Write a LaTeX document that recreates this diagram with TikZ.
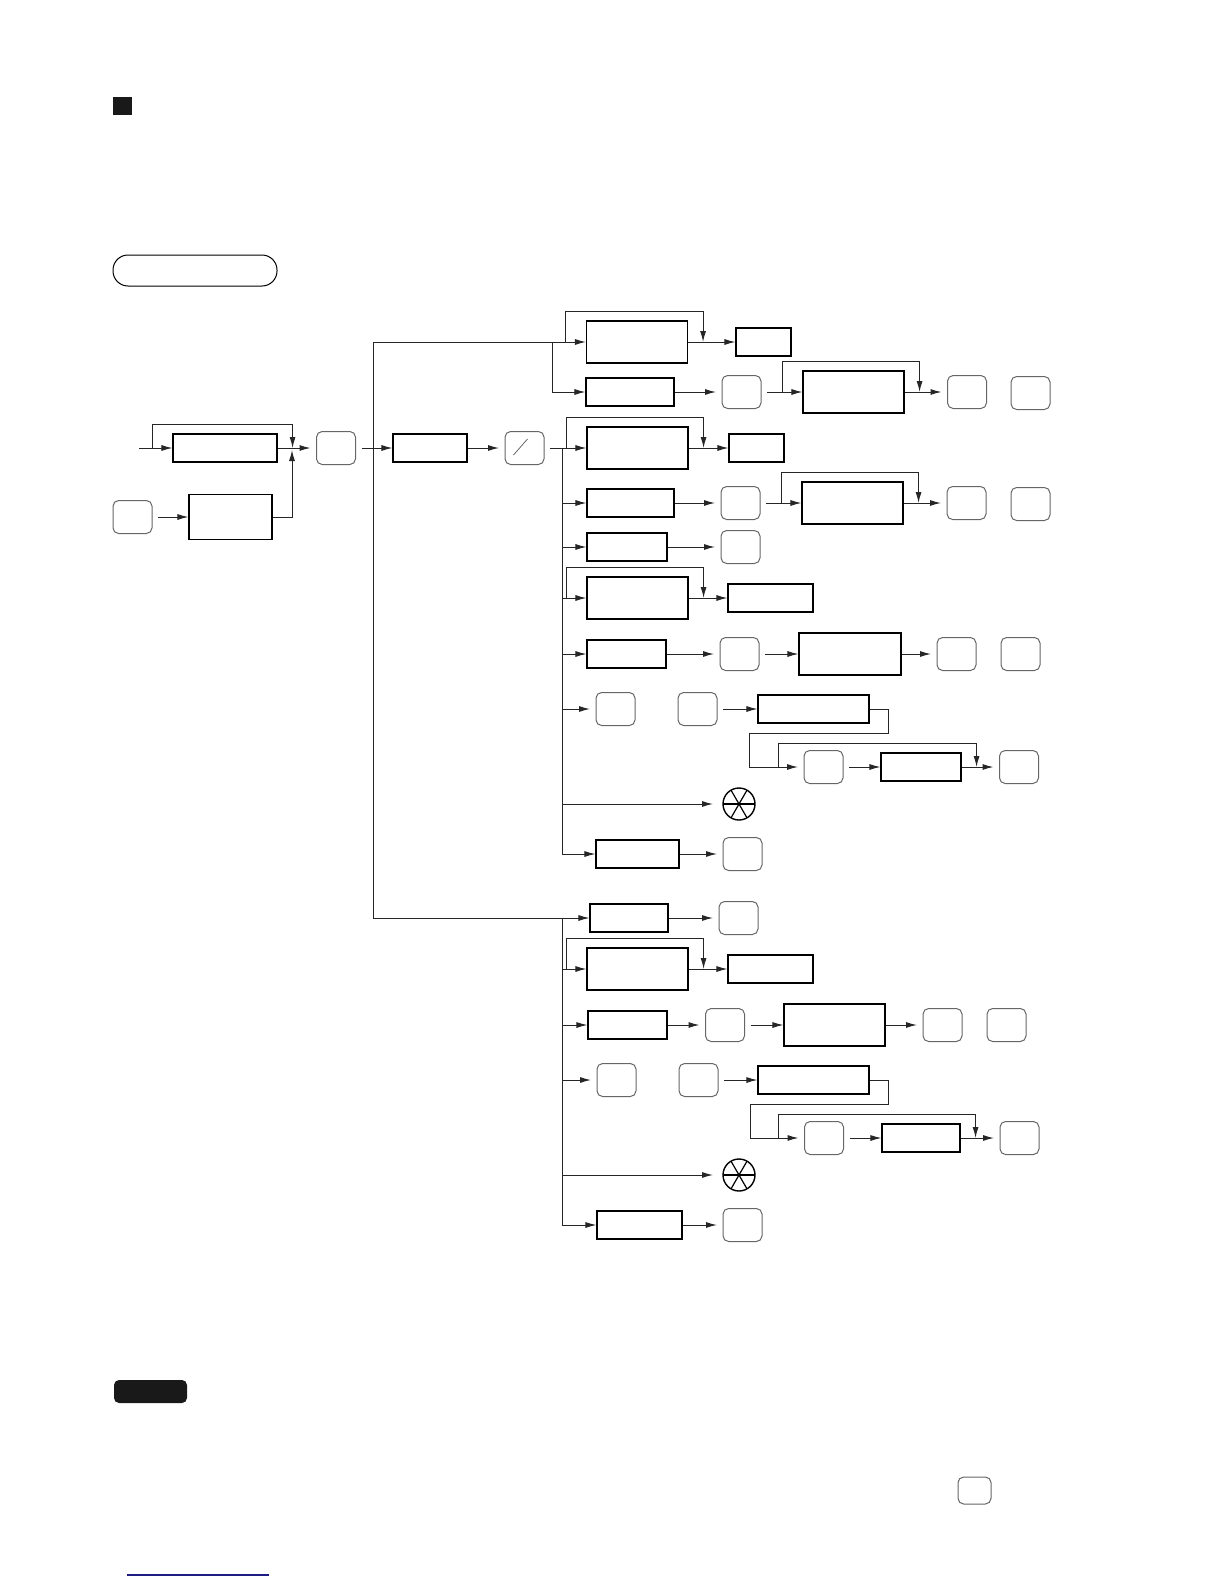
\documentclass[tikz,border=0pt]{standalone}
\usetikzlibrary{arrows.meta}
\definecolor{linknavy}{RGB}{28,28,130}
\tikzset{
	>={Latex[length=5.5pt,width=3pt]},
	conn/.style={black!85, line width=0.5pt},
	arr/.style={conn, ->},
	field/.style={draw=black, line width=0.55pt, inner sep=0pt, minimum height=14pt, minimum width=#1},
	field/.default=40pt,
	bigfield/.style={field=50.5pt, minimum height=21pt},
	key/.style={draw=black!60, line width=0.5pt, rounded corners=2.8pt, inner sep=0pt,
		minimum width=19.5pt, minimum height=16.5pt, outer sep=3pt},
	lamp/.style={circle, draw=black, line width=0.7pt, inner sep=0pt, minimum size=16pt, outer sep=5pt,
		path picture={
			\draw[line width=0.6pt] (path picture bounding box.center) ++(0:8pt) -- ++(180:16pt);
			\draw[line width=0.6pt] (path picture bounding box.center) ++(60:8pt) -- ++(240:16pt);
			\draw[line width=0.6pt] (path picture bounding box.center) ++(120:8pt) -- ++(300:16pt);
		}},
	slashkey/.style={key, path picture={
			\draw[line width=0.4pt] ([shift={(-5.5pt,-3.5pt)}]path picture bounding box.center)
			-- ([shift={(1.5pt,4.5pt)}]path picture bounding box.center);
		}},
}
% bypass line over one node (or a run of nodes)
\newcommand{\skipover}[2]{\draw[arr] ([xshift=-10pt]#1.west) |- ([xshift=7.5pt,yshift=4.5pt]#2.north east) -- ([xshift=7.5pt]#2.east);}

\begin{document}
\begin{tikzpicture}[x=0.5pt, y=-0.5pt]
	\useasboundingbox (0,0) rectangle (1224,1584);
	
	% header marks
	\node[fill=black!90, minimum width=9.5pt, minimum height=9pt, inner sep=0pt] (mark) at (122.5,106) {};
	\node[draw, line width=0.5pt, rounded corners=7.5pt, minimum width=82pt, minimum height=15.5pt, inner sep=0pt] (tag) at (195,270.5) {};
	
	% entry part
	\coordinate (in0) at (139,448);
	\node[field=52pt] (box1) at (225,448) {};
	\node[key] (key0) at (132.5,517) {};
	\node[field=41.5pt, minimum height=22.5pt] (box2) at (230.5,517) {};
	\node[key] (key1) at (336,448) {};
	\node[field=37pt] (box3) at (430,448) {};
	\node[slashkey] (slash) at (524.5,448) {};
	\coordinate (merge) at (292,448);
	
	\draw[arr] (in0) -- (box1);
	\skipover{box1}{box1}
	\draw[arr] (key0) -- (box2);
	\draw[arr] (box2.east) -| ([yshift=-1pt]merge);
	\draw[arr] (box1) -- (key1);
	\draw[arr] (key1) -- (box3);
	\draw[arr] (box3) -- (slash);
	
	% upper branches
	\node[bigfield] (A1) at (637,342) {};
	\node[field=27.5pt] (A2) at (763.5,342) {};
	\node[field=44pt] (B1) at (630,392) {};
	\node[key] (B2) at (741.5,392) {};
	\node[bigfield] (B3) at (853.5,392) {};
	\node[key] (B4) at (967,392) {};
	\node[key] (B5) at (1030.5,393) {};
	
	% branches after the slash key
	\node[bigfield] (C1) at (637.5,448) {};
	\node[field=27.5pt] (C2) at (756.5,448) {};
	\node[field=43.5pt] (D1) at (630.5,503) {};
	\node[key] (D2) at (740.5,503) {};
	\node[bigfield] (D3) at (852.5,503) {};
	\node[key] (D4) at (966.5,503) {};
	\node[key] (D5) at (1030.5,504) {};
	\node[field=40pt] (E1) at (627,547) {};
	\node[key] (E2) at (740.5,547) {};
	\node[bigfield] (F1) at (637.5,598) {};
	\node[field=42.5pt] (F2) at (770.5,598) {};
	\node[field=39.5pt] (G1) at (626.5,654) {};
	\node[key] (G2) at (739.5,654) {};
	\node[bigfield, minimum width=51pt] (G3) at (850,654) {};
	\node[key] (G4) at (956.5,654) {};
	\node[key] (G5) at (1020.5,654) {};
	\node[key] (H1) at (615.5,709) {};
	\node[key] (H2) at (697.5,709) {};
	\node[field=55.5pt] (H3) at (813.5,709) {};
	\node[key] (H4) at (823.5,767) {};
	\node[field=40pt] (H5) at (921,767) {};
	\node[key] (H6) at (1019,767) {};
	\node[lamp] (lampA) at (739,804) {};
	\node[field=41.5pt] (J1) at (637.5,854) {};
	\node[key] (J2) at (742.5,854) {};
	
	% lower branches
	\node[field=39pt] (K1) at (629,918) {};
	\node[key] (K2) at (738.5,918) {};
	\node[bigfield] (L1) at (637.5,969) {};
	\node[field=42.5pt] (L2) at (770.5,969) {};
	\node[field=39.5pt] (M1) at (627.5,1025) {};
	\node[key] (M2) at (725,1025) {};
	\node[bigfield] (M3) at (834.5,1025) {};
	\node[key] (M4) at (942.5,1025) {};
	\node[key] (M5) at (1006.5,1025) {};
	\node[key] (N1) at (616.5,1080) {};
	\node[key] (N2) at (698.5,1080) {};
	\node[field=55.5pt] (N3) at (813.5,1080) {};
	\node[key] (N4) at (824,1138) {};
	\node[field=39pt] (N5) at (921,1138) {};
	\node[key] (N6) at (1019.5,1138) {};
	\node[lamp] (lampB) at (739,1175) {};
	\node[field=42.5pt] (P1) at (639.5,1225) {};
	\node[key] (P2) at (742.5,1225) {};
	
	% trunk and buses
	\coordinate (tTop) at (373,342);
	\coordinate (tBot) at (373,918);
	\coordinate (jA) at (552,342);
	\coordinate (jC) at (562,448);
	\coordinate (jK) at (562,918);
	\draw[conn] (tTop) -- (tBot);
	\draw[arr] (tTop) -- (A1);
	\draw[arr] (jA) |- (B1);
	\draw[arr] (tBot) -- (K1);
	\draw[arr] (slash) -- (C1);
	\draw[conn] (jC) -- (jC |- J1);
	\draw[conn] (jK) -- (jK |- P1);
	\foreach \n in {D1,E1,F1,G1,H1,lampA,J1}
		\draw[arr] (jC |- \n) -- (\n);
	\foreach \n in {L1,M1,N1,lampB,P1}
		\draw[arr] (jK |- \n) -- (\n);
	
	% row chains
	\foreach \a/\b in {A1/A2,B1/B2,B2/B3,B3/B4,C1/C2,D1/D2,D2/D3,D3/D4,E1/E2,F1/F2,
		G1/G2,G2/G3,G3/G4,H2/H3,H4/H5,H5/H6,J1/J2,K1/K2,L1/L2,M1/M2,M2/M3,M3/M4,
		N2/N3,N4/N5,N5/N6,P1/P2}
		\draw[arr] (\a) -- (\b);
	
	% bypass loops
	\skipover{A1}{A1}
	\skipover{B3}{B3}
	\skipover{C1}{C1}
	\skipover{D3}{D3}
	\skipover{F1}{F1}
	\skipover{H4}{H5}
	\skipover{L1}{L1}
	\skipover{N4}{N5}
	
	% return lines to the second line of entries
	\coordinate (Hturn) at (749,733);
	\coordinate (Nturn) at (750,1104);
	\draw[arr] (H3.east) -- ++(19,0) |- (Hturn) |- (H4);
	\draw[arr] (N3.east) -- ++(19,0) |- (Nturn) |- (N4);
	
	% note marks at the foot
	\node[fill=black!90, rounded corners=2.5pt, minimum width=36.5pt, minimum height=11.5pt, inner sep=0pt] (notetag) at (150.5,1391.5) {};
	\node[key, minimum width=16.5pt, minimum height=13.5pt] (keyref) at (974.5,1490.5) {};
	\draw[linknavy, line width=0.8pt] (127,1575) -- (269,1575);
	
\end{tikzpicture}
\end{document}
